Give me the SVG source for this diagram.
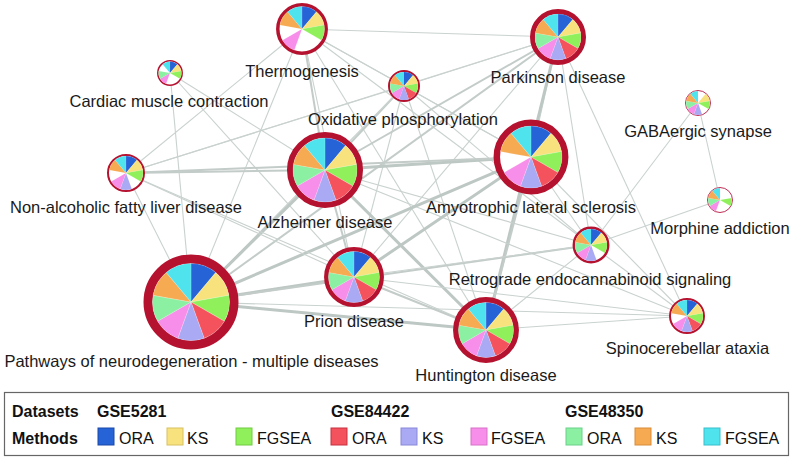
<svg xmlns="http://www.w3.org/2000/svg" xmlns:xlink="http://www.w3.org/1999/xlink" width="794" height="460" viewBox="0 0 794 460">
<style>
.e1{stroke:#c9d2cf;stroke-width:1.1;fill:none}
.e2{stroke:#c3ccc9;stroke-width:2;fill:none}
.e3{stroke:#bdc7c4;stroke-width:3;fill:none}
.ring{fill:#fff;stroke:#b5122f}
.ring2{fill:#fff;stroke:#bf2d55}
.sl use{stroke:#fff;stroke-width:0.5;vector-effect:non-scaling-stroke}
.c0{fill:#2563d6}.c1{fill:#f8e27e}.c2{fill:#8ff05c}.c3{fill:#f4535d}.c4{fill:#a9a9f4}
.c5{fill:#f78ee9}.c6{fill:#8bf0a2}.c7{fill:#f6aa52}.c8{fill:#4fe3ee}
.lbl{font-family:"Liberation Sans",Arial,sans-serif;font-size:16.5px;fill:#1a1a1a;text-anchor:middle}
.lg{font-family:"Liberation Sans",Arial,sans-serif;font-size:16px;fill:#111}
.lgb{font-family:"Liberation Sans",Arial,sans-serif;font-size:16px;font-weight:bold;fill:#111}
.sq{stroke-width:1}
</style>
<defs>
<path id="s0" d="M0 0L0-100A100 100 0 0 1 64.28-76.6Z"/>
<path id="s1" d="M0 0L64.28-76.6A100 100 0 0 1 98.48-17.36Z"/>
<path id="s2" d="M0 0L98.48-17.36A100 100 0 0 1 86.6 50Z"/>
<path id="s3" d="M0 0L86.6 50A100 100 0 0 1 34.2 93.97Z"/>
<path id="s4" d="M0 0L34.2 93.97A100 100 0 0 1-34.2 93.97Z"/>
<path id="s5" d="M0 0L-34.2 93.97A100 100 0 0 1-86.6 50Z"/>
<path id="s6" d="M0 0L-86.6 50A100 100 0 0 1-98.48-17.36Z"/>
<path id="s7" d="M0 0L-98.48-17.36A100 100 0 0 1-64.28-76.6Z"/>
<path id="s8" d="M0 0L-64.28-76.6A100 100 0 0 1 0-100Z"/>
<g id="pieAll">
<use xlink:href="#s0" class="c0"/><use xlink:href="#s1" class="c1"/><use xlink:href="#s2" class="c2"/>
<use xlink:href="#s3" class="c3"/><use xlink:href="#s4" class="c4"/><use xlink:href="#s5" class="c5"/>
<use xlink:href="#s6" class="c6"/><use xlink:href="#s7" class="c7"/><use xlink:href="#s8" class="c8"/>
</g>
</defs>
<rect width="794" height="460" fill="#fff"/>
<g id="edges">
<line class="e1" x1="302" y1="29" x2="558" y2="37"/>
<line class="e1" x1="302" y1="29" x2="404" y2="86"/>
<line class="e2" x1="302" y1="29" x2="325" y2="170"/>
<line class="e1" x1="302" y1="29" x2="531" y2="157"/>
<line class="e1" x1="302" y1="29" x2="354" y2="277"/>
<line class="e1" x1="302" y1="29" x2="486" y2="330"/>
<line class="e1" x1="302" y1="29" x2="191" y2="302"/>
<line class="e1" x1="302" y1="29" x2="126" y2="173"/>
<line class="e1" x1="302" y1="29" x2="591" y2="245"/>
<line class="e1" x1="170" y1="73" x2="191" y2="302"/>
<line class="e1" x1="170" y1="73" x2="325" y2="170"/>
<line class="e1" x1="170" y1="73" x2="354" y2="277"/>
<line class="e1" x1="404" y1="86" x2="558" y2="37"/>
<line class="e2" x1="404" y1="86" x2="325" y2="170"/>
<line class="e1" x1="404" y1="86" x2="531" y2="157"/>
<line class="e1" x1="404" y1="86" x2="126" y2="173"/>
<line class="e1" x1="404" y1="86" x2="191" y2="302"/>
<line class="e1" x1="404" y1="86" x2="354" y2="277"/>
<line class="e1" x1="404" y1="86" x2="486" y2="330"/>
<line class="e1" x1="404" y1="86" x2="591" y2="245"/>
<line class="e2" x1="558" y1="37" x2="325" y2="170"/>
<line class="e1" x1="558" y1="37" x2="531" y2="157"/>
<line class="e1" x1="558" y1="37" x2="126" y2="173"/>
<line class="e2" x1="558" y1="37" x2="191" y2="302"/>
<line class="e1" x1="558" y1="37" x2="354" y2="277"/>
<line class="e3" x1="558" y1="37" x2="486" y2="330"/>
<line class="e1" x1="558" y1="37" x2="591" y2="245"/>
<line class="e1" x1="558" y1="37" x2="687" y2="316"/>
<line class="e1" x1="698" y1="103" x2="720" y2="200"/>
<line class="e1" x1="698" y1="103" x2="591" y2="245"/>
<line class="e1" x1="720" y1="200" x2="591" y2="245"/>
<line class="e3" x1="325" y1="170" x2="531" y2="157"/>
<line class="e2" x1="325" y1="170" x2="126" y2="173"/>
<line class="e3" x1="325" y1="170" x2="191" y2="302"/>
<line class="e2" x1="325" y1="170" x2="354" y2="277"/>
<line class="e3" x1="325" y1="170" x2="486" y2="330"/>
<line class="e1" x1="325" y1="170" x2="591" y2="245"/>
<line class="e1" x1="325" y1="170" x2="687" y2="316"/>
<line class="e2" x1="531" y1="157" x2="126" y2="173"/>
<line class="e3" x1="531" y1="157" x2="191" y2="302"/>
<line class="e3" x1="531" y1="157" x2="354" y2="277"/>
<line class="e2" x1="531" y1="157" x2="486" y2="330"/>
<line class="e1" x1="531" y1="157" x2="591" y2="245"/>
<line class="e1" x1="531" y1="157" x2="687" y2="316"/>
<line class="e1" x1="126" y1="173" x2="191" y2="302"/>
<line class="e1" x1="126" y1="173" x2="354" y2="277"/>
<line class="e1" x1="126" y1="173" x2="486" y2="330"/>
<line class="e3" x1="191" y1="302" x2="354" y2="277"/>
<line class="e3" x1="191" y1="302" x2="486" y2="330"/>
<line class="e2" x1="191" y1="302" x2="591" y2="245"/>
<line class="e1" x1="191" y1="302" x2="687" y2="316"/>
<line class="e2" x1="354" y1="277" x2="486" y2="330"/>
<line class="e1" x1="354" y1="277" x2="591" y2="245"/>
<line class="e1" x1="354" y1="277" x2="687" y2="316"/>
<line class="e1" x1="486" y1="330" x2="591" y2="245"/>
<line class="e1" x1="486" y1="330" x2="687" y2="316"/>
<line class="e1" x1="591" y1="245" x2="687" y2="316"/>
</g>
<g id="n-thermogenesis">
<circle cx="302" cy="29" r="24.2" class="ring" stroke-width="3.5"/>
<g class="sl" transform="translate(302,29) scale(0.225)">
<use xlink:href="#s0" class="c0"/><use xlink:href="#s1" class="c1"/><use xlink:href="#s2" class="c2"/><use xlink:href="#s5" class="c5"/><use xlink:href="#s7" class="c7"/><use xlink:href="#s8" class="c8"/>
</g>
<text class="lbl" x="302" y="77">Thermogenesis</text>
</g>
<g id="n-cardiac">
<circle cx="170" cy="73" r="12.2" class="ring" stroke-width="1.5"/>
<g class="sl" transform="translate(170,73) scale(0.115)">
<use xlink:href="#s0" class="c0"/><use xlink:href="#s1" class="c1"/><use xlink:href="#s2" class="c2"/><use xlink:href="#s5" class="c5"/><use xlink:href="#s6" class="c6"/><use xlink:href="#s8" class="c8"/>
</g>
<text class="lbl" x="169" y="107">Cardiac muscle contraction</text>
</g>
<g id="n-oxidative">
<circle cx="404" cy="86" r="15" class="ring" stroke-width="2"/>
<use class="sl" xlink:href="#pieAll" transform="translate(404,86) scale(0.14)"/>
<text class="lbl" x="403" y="125">Oxidative phosphorylation</text>
</g>
<g id="n-parkinson">
<circle cx="558" cy="37" r="25.5" class="ring" stroke-width="5"/>
<g class="sl" transform="translate(558,37) scale(0.23)"><use xlink:href="#pieAll"/></g>
<text class="lbl" x="558" y="83">Parkinson disease</text>
</g>
<g id="n-gaba">
<circle cx="698" cy="103" r="12.5" class="ring2" stroke-width="1"/>
<g class="sl" transform="translate(698,103) scale(0.12)">
<use xlink:href="#s1" class="c1"/><use xlink:href="#s2" class="c2"/><use xlink:href="#s4" class="c4"/><use xlink:href="#s5" class="c5"/><use xlink:href="#s6" class="c6"/><use xlink:href="#s7" class="c7"/><use xlink:href="#s8" class="c8"/>
</g>
<text class="lbl" x="698" y="137">GABAergic synapse</text>
</g>
<g id="n-morphine">
<circle cx="720" cy="200" r="12.5" class="ring2" stroke-width="1"/>
<g class="sl" transform="translate(720,200) scale(0.12)">
<use xlink:href="#s2" class="c2"/><use xlink:href="#s5" class="c5"/><use xlink:href="#s6" class="c6"/><use xlink:href="#s7" class="c7"/><use xlink:href="#s8" class="c8"/>
</g>
<text class="lbl" x="720" y="234">Morphine addiction</text>
</g>
<g id="n-alzheimer">
<circle cx="325" cy="170" r="35" class="ring" stroke-width="6"/>
<g class="sl" transform="translate(325,170) scale(0.32)"><use xlink:href="#pieAll"/></g>
<text class="lbl" x="325" y="228">Alzheimer disease</text>
</g>
<g id="n-nafld">
<circle cx="126" cy="173" r="18" class="ring" stroke-width="2"/>
<g class="sl" transform="translate(126,173) scale(0.17)">
<use xlink:href="#s0" class="c0"/><use xlink:href="#s1" class="c1"/><use xlink:href="#s2" class="c2"/><use xlink:href="#s4" class="c4"/><use xlink:href="#s5" class="c5"/><use xlink:href="#s7" class="c7"/><use xlink:href="#s8" class="c8"/>
</g>
<text class="lbl" x="126" y="213">Non-alcoholic fatty liver disease</text>
</g>
<g id="n-als">
<circle cx="531" cy="157" r="34.2" class="ring" stroke-width="6.5"/>
<g class="sl" transform="translate(531,157) scale(0.31)">
<use xlink:href="#s0" class="c0"/><use xlink:href="#s1" class="c1"/><use xlink:href="#s2" class="c2"/><use xlink:href="#s3" class="c3"/><use xlink:href="#s4" class="c4"/><use xlink:href="#s5" class="c5"/><use xlink:href="#s7" class="c7"/><use xlink:href="#s8" class="c8"/>
</g>
<text class="lbl" x="531" y="213">Amyotrophic lateral sclerosis</text>
</g>
<g id="n-pathways">
<circle cx="191" cy="302" r="43" class="ring" stroke-width="9"/>
<g class="sl" transform="translate(191,302) scale(0.385)"><use xlink:href="#pieAll"/></g>
<text class="lbl" x="191.5" y="367">Pathways of neurodegeneration - multiple diseases</text>
</g>
<g id="n-prion">
<circle cx="354" cy="277" r="27.7" class="ring" stroke-width="4.5"/>
<g class="sl" transform="translate(354,277) scale(0.255)"><use xlink:href="#pieAll"/></g>
<text class="lbl" x="354" y="327">Prion disease</text>
</g>
<g id="n-retrograde">
<circle cx="591" cy="245" r="17.2" class="ring" stroke-width="2.5"/>
<g class="sl" transform="translate(591,245) scale(0.16)">
<use xlink:href="#s0" class="c0"/><use xlink:href="#s1" class="c1"/><use xlink:href="#s2" class="c2"/><use xlink:href="#s4" class="c4"/><use xlink:href="#s5" class="c5"/><use xlink:href="#s6" class="c6"/><use xlink:href="#s7" class="c7"/><use xlink:href="#s8" class="c8"/>
</g>
<text class="lbl" x="590" y="285">Retrograde endocannabinoid signaling</text>
</g>
<g id="n-huntington">
<circle cx="486" cy="330" r="30.2" class="ring" stroke-width="5.5"/>
<g class="sl" transform="translate(486,330) scale(0.275)"><use xlink:href="#pieAll"/></g>
<text class="lbl" x="486" y="381">Huntington disease</text>
</g>
<g id="n-spinocerebellar">
<circle cx="687" cy="316" r="17" class="ring" stroke-width="2"/>
<g class="sl" transform="translate(687,316) scale(0.16)">
<use xlink:href="#s0" class="c0"/><use xlink:href="#s1" class="c1"/><use xlink:href="#s2" class="c2"/><use xlink:href="#s3" class="c3"/><use xlink:href="#s4" class="c4"/><use xlink:href="#s5" class="c5"/><use xlink:href="#s7" class="c7"/><use xlink:href="#s8" class="c8"/>
</g>
<text class="lbl" x="687.5" y="354">Spinocerebellar ataxia</text>
</g>
<g id="legend">
<rect x="4.5" y="392.5" width="784" height="63" fill="#fff" stroke="#666" stroke-width="1.2"/>
<text class="lgb" x="12" y="417">Datasets</text>
<text class="lgb" x="97" y="417">GSE5281</text>
<text class="lgb" x="331" y="417">GSE84422</text>
<text class="lgb" x="565" y="417">GSE48350</text>
<text class="lgb" x="12" y="444">Methods</text>
<rect class="sq c0" x="98" y="428" width="16" height="17" stroke="#1a48a8"/>
<text class="lg" x="119" y="444">ORA</text>
<rect class="sq c1" x="167" y="428" width="16" height="17" stroke="#d8c060"/>
<text class="lg" x="187" y="444">KS</text>
<rect class="sq c2" x="236" y="428" width="16" height="17" stroke="#70cc40"/>
<text class="lg" x="257" y="444">FGSEA</text>
<rect class="sq c3" x="331" y="428" width="16" height="17" stroke="#c83040"/>
<text class="lg" x="352" y="444">ORA</text>
<rect class="sq c4" x="401" y="428" width="16" height="17" stroke="#8888d8"/>
<text class="lg" x="422" y="444">KS</text>
<rect class="sq c5" x="471" y="428" width="16" height="17" stroke="#d870c8"/>
<text class="lg" x="491" y="444">FGSEA</text>
<rect class="sq c6" x="566" y="428" width="16" height="17" stroke="#6ad088"/>
<text class="lg" x="587" y="444">ORA</text>
<rect class="sq c7" x="635" y="428" width="16" height="17" stroke="#d88c38"/>
<text class="lg" x="656" y="444">KS</text>
<rect class="sq c8" x="704" y="428" width="16" height="17" stroke="#38c0cc"/>
<text class="lg" x="725" y="444">FGSEA</text>
</g>
</svg>
